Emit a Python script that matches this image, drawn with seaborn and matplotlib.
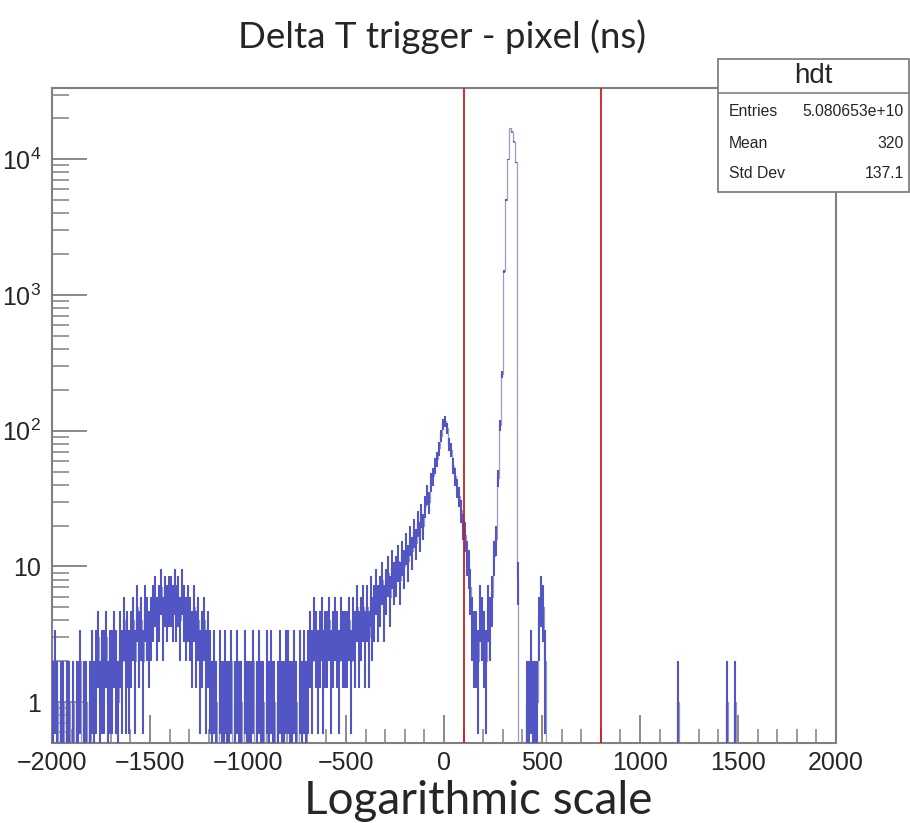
import numpy as np
import pandas as pd
import matplotlib
matplotlib.use("Agg")
import matplotlib.pyplot as plt
import seaborn as sns
from matplotlib.ticker import FixedLocator, FixedFormatter, MultipleLocator, LogLocator, NullFormatter
from matplotlib.patches import Rectangle
from matplotlib.lines import Line2D

# ---- histogram contents (10 ns bins starting at -2000 ns) ----
BIN_WIDTH = 10
X_MIN, X_MAX = -2000, 2000

counts_far_left = [      # -2000 .. -1200 ns
    1, 2, 1, 0, 1, 1, 0, 1, 1, 0,
    1, 0, 1, 1, 2, 0, 1, 1, 0, 1,
    2, 1, 2, 3, 1, 2, 2, 3, 1, 2,
    2, 3, 2, 1, 3, 2, 4, 2, 3, 2,
    3, 4, 2, 5, 3, 4, 2, 5, 4, 3,
    4, 5, 6, 4, 5, 7, 4, 6, 5, 6,
    6, 5, 7, 5, 6, 4, 7, 5, 4, 5,
    4, 3, 5, 3, 4, 2, 3, 4, 2, 3,
]
counts_plateau = [       # -1200 .. -500 ns
    2, 1, 2, 1, 0, 2, 1, 1, 2, 1,
    1, 2, 0, 1, 2, 1, 1, 0, 2, 1,
    1, 1, 2, 0, 1, 2, 1, 1, 0, 2,
    1, 2, 1, 1, 0, 1, 2, 1, 1, 2,
    2, 1, 1, 2, 1, 0, 2, 1, 2, 1,
    2, 3, 2, 4, 3, 2, 3, 4, 2, 3,
    3, 4, 2, 3, 4, 3, 2, 4, 3, 3,
]
counts_rise = [          # -500 .. 0 ns
    3, 4, 2, 4, 3, 5, 3, 4, 5, 3,
    5, 3, 6, 4, 5, 7, 5, 6, 8, 5,
    7, 9, 6, 10, 8, 9, 11, 8, 12, 10,
    14, 11, 16, 13, 18, 15, 21, 17, 24, 20,
    28, 34, 30, 42, 46, 55, 62, 74, 92, 112,
]
counts_valley = [        # 0 .. 300 ns
    118, 104, 80, 72, 55, 46, 38, 33, 26, 20,
    17, 12, 10, 7, 4, 3, 3, 2, 5, 4,
    3, 2, 5, 4, 6, 12, 16, 45, 110, 260,
]
counts_peak = [1500, 5000, 10000, 17000, 16000, 13500, 9500, 8]   # 300 .. 380 ns
counts_afterpulse = [0, 0, 0, 0, 1, 1, 2, 1, 1, 1, 4, 6, 5, 2]     # 380 .. 520 ns
late_hit_times = [1195, 1445, 1485]
late_hit_counts = [1, 1, 1]

cut_low, cut_high = 100, 800

title_text = "Delta T trigger - pixel (ns)"
caption_text = "Logarithmic scale"
stats_name = "hdt"
stats_labels = ["Entries", "Mean", "Std Dev"]
stats_values = ["5.080653e+10", "320", "137.1"]

y_tick_values = [1, 10, 100, 1000, 10000]
y_tick_labels = ["1", "10", r"$10^{2}$", r"$10^{3}$", r"$10^{4}$"]

# ---- assemble bins ----
edges = np.arange(X_MIN, X_MAX + BIN_WIDTH, BIN_WIDTH)
centers = edges[:-1] + BIN_WIDTH / 2
counts = np.zeros(len(centers))
head = np.concatenate([counts_far_left, counts_plateau, counts_rise,
                       counts_valley, counts_peak, counts_afterpulse])
counts[:len(head)] = head
for t, c in zip(late_hit_times, late_hit_counts):
    counts[int((t - X_MIN) // BIN_WIDTH)] = c
hist_df = pd.DataFrame({"dt": centers, "n": counts})

# ---- style ----
sns.set_theme(style="white")
plt.rcParams["font.family"] = ["Liberation Sans", "DejaVu Sans"]
plt.rcParams["mathtext.fontset"] = "custom"
plt.rcParams["mathtext.rm"] = "Liberation Sans"
plt.rcParams["mathtext.it"] = "Liberation Sans"
plt.rcParams["mathtext.default"] = "regular"

FRAME = "#808080"
ERR_BLUE = "#5255c4"
STEP_GRAY = "#9c9cbc"
CUT_RED = "#cc1f1f"

fig = plt.figure(figsize=(9.1, 8.23), dpi=100)
fig.patch.set_facecolor("white")
ax = fig.add_axes([52 / 910, 1 - 743 / 823, (836 - 52) / 910, (743 - 88) / 823])

# histogram outline (thin)
sns.histplot(data=hist_df, x="dt", weights="n", binwidth=BIN_WIDTH,
             binrange=(X_MIN, X_MAX), element="step", fill=False,
             color=STEP_GRAY, linewidth=0.9, ax=ax, zorder=2)

# statistical error bars (sqrt N)
filled = counts > 0
err = np.sqrt(counts[filled])
lo = np.maximum(counts[filled] - err, 1e-3)
hi = counts[filled] + err
ax.vlines(centers[filled], lo, hi, color=ERR_BLUE, lw=1.5, zorder=3)

ax.set_yscale("log")
ax.set_xlim(X_MIN, X_MAX)
ax.set_ylim(0.5, 33500)
ax.set_xlabel("")
ax.set_ylabel("")

# timing window cuts
for xc in (cut_low, cut_high):
    ax.axvline(xc, color=CUT_RED, lw=1.3, zorder=4)

# axes / ticks
for side, sp in ax.spines.items():
    sp.set_color(FRAME)
    sp.set_linewidth(1.5)
ax.xaxis.set_major_locator(MultipleLocator(500))
ax.xaxis.set_minor_locator(MultipleLocator(100))
ax.yaxis.set_major_locator(FixedLocator(y_tick_values))
ax.yaxis.set_major_formatter(FixedFormatter(y_tick_labels))
ax.yaxis.set_minor_locator(LogLocator(base=10, subs=np.arange(2, 10)))
ax.yaxis.set_minor_formatter(NullFormatter())
ax.tick_params(axis="x", which="major", direction="in", length=20, width=1.3,
               color=FRAME, labelsize=18, pad=6, bottom=True, top=False)
ax.tick_params(axis="x", which="minor", direction="in", length=10, width=1.1,
               color=FRAME, bottom=True, top=False)
ax.tick_params(axis="y", which="major", direction="in", length=25, width=1.3,
               color=FRAME, labelsize=18, pad=8, left=True, right=False)
ax.tick_params(axis="y", which="minor", direction="in", length=12, width=1.1,
               color=FRAME, left=True, right=False)

# title and caption
fig.text(442 / 910, 1 - 37 / 823, title_text, ha="center", va="center",
         fontsize=26.5, family=["Lato", "DejaVu Sans"])
fig.text(478 / 910, 1 - 801 / 823, caption_text, ha="center", va="center",
         fontsize=33, family=["Lato", "DejaVu Sans"])

# statistics box
bx0, bx1, by0, by1 = 718, 909, 59, 192
W, H = 910, 823
fig.patches.append(Rectangle((bx0 / W, 1 - by1 / H), (bx1 - bx0) / W, (by1 - by0) / H,
                             transform=fig.transFigure, facecolor="white",
                             edgecolor=FRAME, lw=1.3, zorder=5))
fig.lines.append(Line2D([bx0 / W, bx1 / W], [1 - 93 / H, 1 - 93 / H],
                        transform=fig.transFigure, color=FRAME, lw=1.2, zorder=6))
fig.text((bx0 + bx1) / 2 / W, 1 - 76 / H, stats_name, ha="center", va="center",
         fontsize=20, zorder=7)
for i, (lab, val) in enumerate(zip(stats_labels, stats_values)):
    yy = 1 - (112 + 31 * i) / H
    fig.text(729 / W, yy, lab, ha="left", va="center", fontsize=11.3, zorder=7)
    fig.text(904 / W, yy, val, ha="right", va="center", fontsize=11.3, zorder=7)

fig.savefig("out.png", dpi=100, facecolor="white")
